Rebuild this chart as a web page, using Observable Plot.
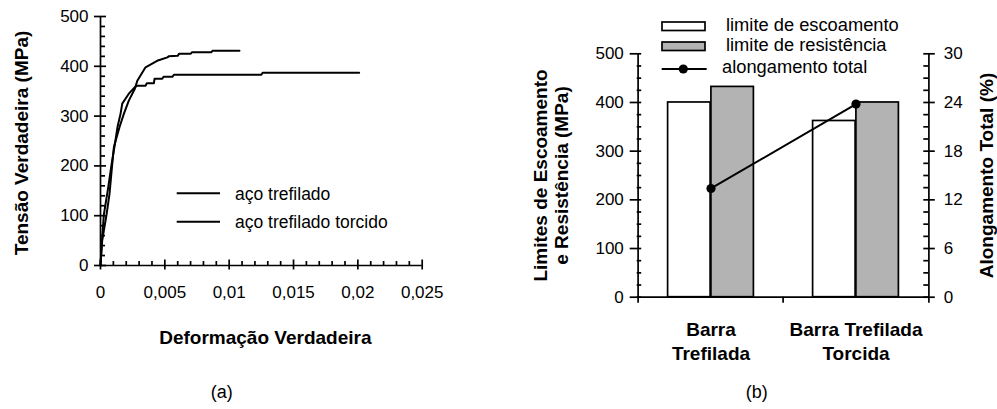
<!DOCTYPE html>
<html><head><meta charset="utf-8">
<script src="https://cdn.jsdelivr.net/npm/d3@7"></script>
<script src="https://cdn.jsdelivr.net/npm/@observablehq/plot@0.6"></script>
<style>
body{margin:0;background:#fff;}
#wrap{position:relative;width:997px;height:409px;overflow:hidden;background:#fff;}
#wrap > svg{position:absolute;top:0;}
</style></head><body><div id="wrap"></div>
<script>
// ---------- Panel (a): true stress-strain curves ----------
const seriesA = ["aço trefilado", "aço trefilado torcido"];
const strainTrefilado = [0, 0.00013, 0.00047, 0.0007, 0.00091, 0.00104, 0.00148, 0.00182, 0.0022, 0.00267, 0.00286, 0.0035, 0.0044, 0.0052, 0.0053, 0.006, 0.0061, 0.007, 0.0071, 0.0086, 0.0087, 0.0108];
const stressTrefilado = [0, 50, 102, 144, 203, 238, 278, 305, 331, 355, 371, 398, 411, 418, 420, 421, 425, 425, 428, 428, 431, 431];
const strainTorcido = [0, 0.00008, 0.00026, 0.0006, 0.00086, 0.00112, 0.00132, 0.00156, 0.00169, 0.0022, 0.00267, 0.00286, 0.0035, 0.0036, 0.00415, 0.0042, 0.0048, 0.0049, 0.0056, 0.0057, 0.0125, 0.0126, 0.0201];
const stressTorcido = [0, 37, 102, 157, 203, 244, 278, 305, 325, 345, 358, 361, 361, 366, 366, 375, 375, 379, 379, 383, 383, 387, 387];
const xTicksA = [0, 0.005, 0.01, 0.015, 0.02, 0.025];
const xTickLabelsA = ["0", "0,005", "0,01", "0,015", "0,02", "0,025"];
const yTicksA = [0, 100, 200, 300, 400, 500];
const xTitleA = "Deformação Verdadeira";
const yTitleA = "Tensão Verdadeira (MPa)";

// ---------- Panel (b): bars + elongation ----------
const categories = ["Barra Trefilada", "Barra Trefilada Torcida"];
const categoryLabels = ["Barra\nTrefilada", "Barra Trefilada\nTorcida"];
const limiteEscoamento = [400, 362];
const limiteResistencia = [432, 400];
const alongamentoTotal = [13.4, 23.8];
const yTicksB = [0, 100, 200, 300, 400, 500];
const rightTickLabels = ["0", "6", "12", "18", "24", "30"];
const rightMax = 30;
const seriesB = ["limite de escoamento", "limite de resistência", "alongamento total"];
const yTitleB = "Limites de Escoamento\ne Resistência (MPa)";
const yTitleRightB = "Alongamento Total (%)";

const FONT = "'Liberation Sans', Arial, sans-serif";
const wrap = document.getElementById("wrap");
const SW = 1.7;

// ---- Panel (a)
const curveA = [
  ...strainTrefilado.map((x, i) => ({x, y: stressTrefilado[i], s: seriesA[0]})),
  ...strainTorcido.map((x, i) => ({x, y: stressTorcido[i], s: seriesA[1]}))
];
const minorXA = d3.range(1, 25).filter(i => i % 5 !== 0).map(i => i / 1000);
const minorYA = d3.range(20, 500, 20).filter(d => d % 100 !== 0);
const WA = 460, mLA = 100, mRA = 38.3, mTA = 16, mBA = 144;
const iwA = WA - mLA - mRA, ihA = 409 - mTA - mBA;

const plotA = Plot.plot({
  width: WA, height: 409,
  marginLeft: mLA, marginRight: mRA, marginTop: mTA, marginBottom: mBA,
  style: {fontFamily: FONT, fontSize: "17px", background: "transparent", color: "black"},
  x: {domain: [0, 0.025], label: null},
  y: {domain: [0, 500], label: null},
  marks: [
    // tick marks (major crossing, minor inside)
    Plot.ruleY(yTicksA, {insetLeft: -6, insetRight: iwA - 6, stroke: "black", strokeWidth: SW}),
    Plot.ruleY(minorYA, {insetLeft: 0, insetRight: iwA - 5, stroke: "black", strokeWidth: SW}),
    Plot.ruleX(xTicksA, {insetTop: ihA - 5.5, insetBottom: -4.5, stroke: "black", strokeWidth: SW}),
    Plot.ruleX(minorXA, {insetTop: ihA - 4, insetBottom: 0, stroke: "black", strokeWidth: SW}),
    Plot.axisY(yTicksA, {tickSize: 0, tickPadding: 12, tickFormat: d => String(d)}),
    Plot.axisX(xTicksA, {tickSize: 0, tickPadding: 20, tickFormat: d => xTickLabelsA[xTicksA.indexOf(d)]}),
    Plot.ruleX([0], {stroke: "black", strokeWidth: SW}),
    Plot.ruleY([0], {stroke: "black", strokeWidth: SW}),
    Plot.line(curveA, {x: "x", y: "y", z: "s", stroke: "black", strokeWidth: 2}),
    Plot.text([yTitleA], {frameAnchor: "left", rotate: -90, dx: -79, dy: 2, textAnchor: "middle", lineAnchor: "middle", fontWeight: "bold", fontSize: 19}),
    Plot.text([xTitleA], {frameAnchor: "bottom", dx: 4, dy: 72, textAnchor: "middle", lineAnchor: "middle", fontWeight: "bold", fontSize: 19})
  ]
});
plotA.style.left = "0px";
wrap.appendChild(plotA);

// ---- Panel (b)
const WB = 477, mLB = 116.7, mRB = 68.7, mTB = 53.3, mBB = 112.3;
const iwB = WB - mLB - mRB, ihB = 409 - mTB - mBB;
const bw = iwB / categories.length;
const barW = 43.3;
const rows = categories.map((c, i) => ({cat: c, esc: limiteEscoamento[i], res: limiteResistencia[i], al: alongamentoTotal[i]}));
const minorYB = d3.range(25, 500, 25).filter(d => d % 100 !== 0);
const toLeft = v => v * 500 / rightMax;

const plotB = Plot.plot({
  width: WB, height: 409,
  marginLeft: mLB, marginRight: mRB, marginTop: mTB, marginBottom: mBB,
  style: {fontFamily: FONT, fontSize: "17px", background: "transparent", color: "black"},
  x: {domain: categories, padding: 0, label: null},
  y: {domain: [0, 500], label: null},
  marks: [
    Plot.barY(rows, {x: "cat", y: "esc", fill: "white", stroke: "black", strokeWidth: SW, insetLeft: bw / 2 - barW, insetRight: bw / 2}),
    Plot.barY(rows, {x: "cat", y: "res", fill: "#b3b3b3", stroke: "black", strokeWidth: SW, insetLeft: bw / 2, insetRight: bw / 2 - barW}),
    // left axis ticks
    Plot.ruleY(yTicksB, {insetLeft: -7, insetRight: iwB - 4.5, stroke: "black", strokeWidth: SW}),
    Plot.ruleY(minorYB, {insetLeft: 0, insetRight: iwB - 4.5, stroke: "black", strokeWidth: SW}),
    // right axis ticks
    Plot.ruleY(yTicksB, {insetLeft: iwB - 5, insetRight: -6.5, stroke: "black", strokeWidth: SW}),
    Plot.ruleY(minorYB, {insetLeft: iwB - 5, insetRight: 0, stroke: "black", strokeWidth: SW}),
    Plot.axisY(yTicksB, {tickSize: 0, tickPadding: 13.4, tickFormat: d => String(d)}),
    Plot.axisY(yTicksB, {anchor: "right", tickSize: 0, tickPadding: 15, tickFormat: d => rightTickLabels[yTicksB.indexOf(d)]}),
    // category separator tick
    Plot.ruleX([categories[1]], {dx: -bw / 2, insetTop: ihB, insetBottom: -6, stroke: "black", strokeWidth: SW}),
    Plot.axisX(categories, {tickSize: 0, tickPadding: 22, tickFormat: d => categoryLabels[categories.indexOf(d)], fontWeight: "bold", fontSize: 19, lineHeight: 1.25}),
    Plot.ruleX([categories[0]], {dx: -bw / 2, insetBottom: -6, stroke: "black", strokeWidth: SW}),
    Plot.ruleX([categories[1]], {dx: bw / 2, insetBottom: -6, stroke: "black", strokeWidth: SW}),
    Plot.ruleY([0], {stroke: "black", strokeWidth: SW}),
    Plot.line(rows, {x: "cat", y: d => toLeft(d.al), stroke: "black", strokeWidth: 2}),
    Plot.dot(rows, {x: "cat", y: d => toLeft(d.al), r: 4.6, fill: "black", stroke: "none"}),
    Plot.text([yTitleB], {frameAnchor: "left", rotate: -90, dx: -86.5, textAnchor: "middle", lineAnchor: "middle", fontWeight: "bold", fontSize: 19, lineHeight: 1.08}),
    Plot.text([yTitleRightB], {frameAnchor: "right", rotate: -90, dx: 57.7, textAnchor: "middle", lineAnchor: "middle", fontWeight: "bold", fontSize: 19})
  ]
});
plotB.style.left = "520px";
wrap.appendChild(plotB);

// ---- Overlay: legends and captions
const ov = d3.select(wrap).append("svg")
  .attr("width", 997).attr("height", 409)
  .style("left", "0px").style("pointer-events", "none")
  .style("font-family", FONT).style("font-size", "17.5px");

// legend (a)
[193.3, 221.7].forEach((y, i) => {
  ov.append("line").attr("x1", 176.7).attr("x2", 220).attr("y1", y).attr("y2", y).attr("stroke", "black").attr("stroke-width", 2);
  ov.append("text").attr("x", 235).attr("y", y + 6.5).text(seriesA[i]);
});

// legend (b)
ov.append("rect").attr("x", 662).attr("y", 22).attr("width", 43).attr("height", 8.5).attr("fill", "white").attr("stroke", "black").attr("stroke-width", SW);
ov.append("rect").attr("x", 662).attr("y", 42).attr("width", 43).attr("height", 8.5).attr("fill", "#b3b3b3").attr("stroke", "black").attr("stroke-width", SW);
ov.append("line").attr("x1", 661.7).attr("x2", 706.7).attr("y1", 69).attr("y2", 69).attr("stroke", "black").attr("stroke-width", 2);
ov.append("circle").attr("cx", 683.3).attr("cy", 69).attr("r", 4.6).attr("fill", "black");
ov.append("text").attr("x", 726).attr("y", 31).style("font-size", "18.3px").text(seriesB[0]);
ov.append("text").attr("x", 726).attr("y", 51).style("font-size", "18.3px").text(seriesB[1]);
ov.append("text").attr("x", 722).attr("y", 72.5).style("font-size", "18.3px").text(seriesB[2]);

// captions
ov.append("text").attr("x", 221.7).attr("y", 398).attr("text-anchor", "middle").style("font-size", "18px").text("(a)");
ov.append("text").attr("x", 756.7).attr("y", 398).attr("text-anchor", "middle").style("font-size", "18px").text("(b)");
</script></body></html>
